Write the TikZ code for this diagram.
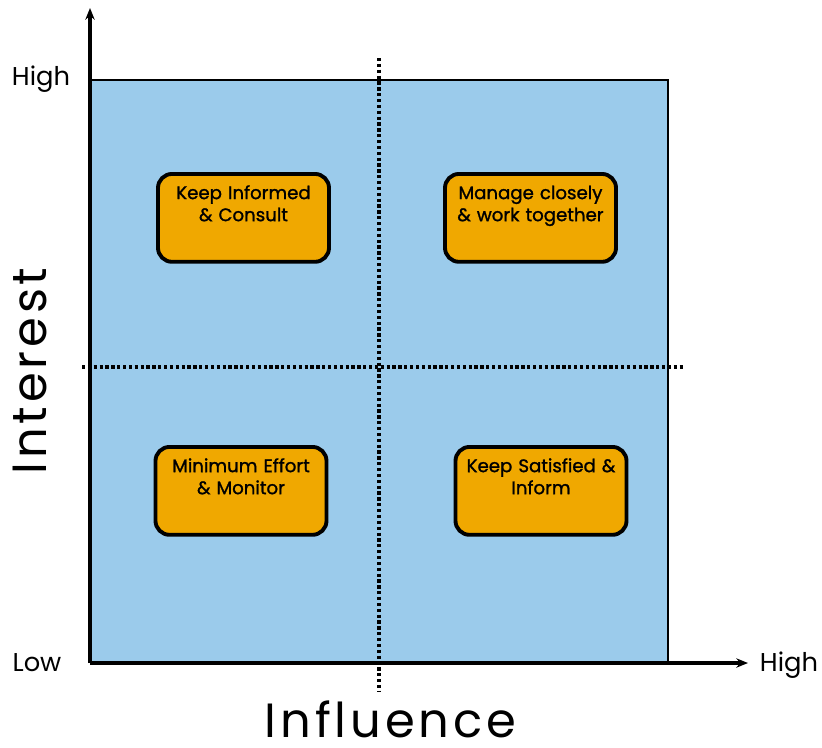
\documentclass[tikz,border=0pt]{standalone}
\usepackage{fontspec}
\setmainfont{Poppins}
\newfontfamily\axisfont[LetterSpace=8]{Poppins}
\newfontfamily\stakefont[FakeBold=1.3]{Poppins}
\usetikzlibrary{positioning,arrows.meta}

\definecolor{gridblue}{RGB}{155,203,235}
\definecolor{stakeorange}{RGB}{240,168,0}

\tikzset{
  stake/.style={draw, line width=3.3pt, fill=stakeorange, rounded corners=12pt,
    anchor=north, text width=143pt, inner xsep=1.5pt, inner ysep=0pt, align=center,
    text height=21.5pt, text depth=53.5pt, font=\stakefont\fontsize{15.5}{18.8}\selectfont},
  level/.style={font=\fontsize{22}{26}\selectfont},
  axislabel/.style={inner sep=0pt, font=\axisfont\fontsize{41}{46}\selectfont},
  midline/.style={line width=2.8pt, dash pattern=on 2.8pt off 2.2pt}
}

\begin{document}
\begin{tikzpicture}[x=0.03cm,y=-0.03cm]
      \useasboundingbox (0,0) rectangle (822,747);

      \coordinate (O) at (90,663);
      \coordinate (TL) at (90,80);
      \coordinate (TR) at (668,80);
      \coordinate (BR) at (668,663);
      \coordinate (ytip) at (90,8);
      \coordinate (xtip) at (748,663);
      \coordinate (vtop) at (379,58);
      \coordinate (vbot) at (379,692);
      \coordinate (hleft) at (82,367);
      \coordinate (hright) at (685,367);

      \fill[gridblue] (TL) rectangle (BR);
      \draw[midline] (vtop) -- (vbot);
      \draw[midline] (hleft) -- (hright);

      \node[stake] (consult) at (243.5,172) {Keep Informed\\ \& Consult};
      \node[stake] (manage) at (530.5,172) {Manage closely\\ \& work together};
      \node[stake] (monitor) at (241,445) {Minimum Effort\\ \& Monitor};
      \node[stake] (satisfy) at (541,445) {Keep Satisfied \&\\ Inform};

      \node[level] (yhigh) at (41,79) {High};
      \node[level] (ylow) at (37,663) {Low};
      \node[level] (xhigh) at (789,665) {High};
      \node[axislabel, rotate=90] (interest) at (30,371) {Interest};
      \node[axislabel] (influence) at (390.5,719) {Influence};

      \draw[line width=2.5pt] (TL) -- (TR) -- (BR);
      \draw[line width=3.3pt, -{Stealth[length=10pt,width=8pt]}] (O) -- (ytip);
      \draw[line width=3.3pt, -{Stealth[length=10pt,width=8pt]}] (O) -- (xtip);
    \end{tikzpicture}
\end{document}
